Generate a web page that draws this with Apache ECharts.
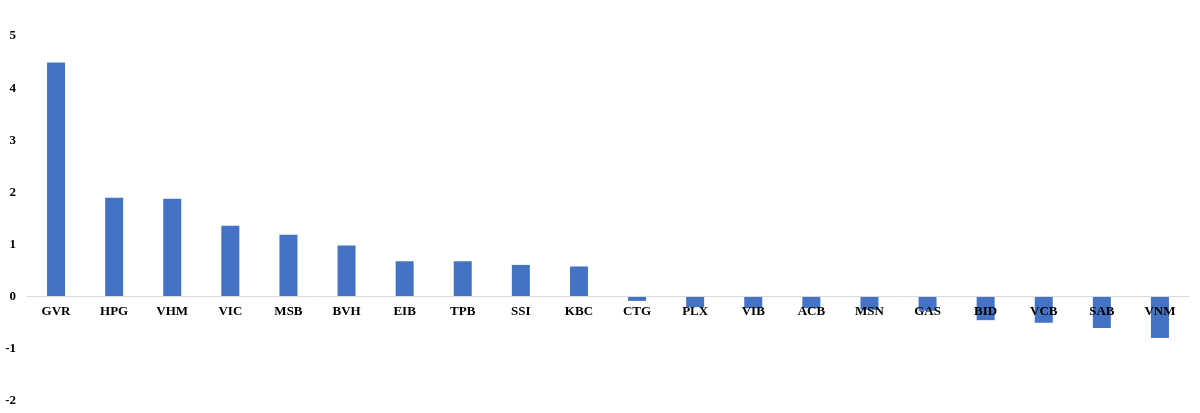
<!DOCTYPE html>
<html>
<head>
    <meta charset="UTF-8">
    <title>chart</title>
    <style>
        html, body { margin: 0; padding: 0; background: #fff; }
        #main { width: 1200px; height: 413px; }
    </style>
</head>
<body>
<div id="main"></div>
<script src="https://cdn.jsdelivr.net/npm/echarts@6/dist/echarts.min.js"></script>
<script>
    var tickers = ['GVR', 'HPG', 'VHM', 'VIC', 'MSB', 'BVH', 'EIB', 'TPB', 'SSI', 'KBC',
        'CTG', 'PLX', 'VIB', 'ACB', 'MSN', 'GAS', 'BID', 'VCB', 'SAB', 'VNM'];
    var values = [4.49, 1.90, 1.88, 1.36, 1.19, 0.98, 0.68, 0.68, 0.61, 0.58,
        -0.08, -0.2, -0.22, -0.22, -0.25, -0.27, -0.45, -0.5, -0.6, -0.79];
    var yMin = -2, yMax = 5, yStep = 1;

    var gridTop = 36, gridBottom = 12, chartH = 413;
    // move the category axis up so it sits on the zero line
    var plotH = chartH - gridTop - gridBottom;
    var zeroOffset = -plotH * (0 - yMin) / (yMax - yMin);

    var labelFont = {
        fontFamily: '"Liberation Serif", "Times New Roman", serif',
        fontWeight: 'bold',
        fontSize: 13,
        color: '#000'
    };

    var myChart = echarts.init(document.getElementById('main'));
    var option = {
        animation: false,
        grid: { left: 27, right: 11, top: gridTop, bottom: gridBottom, containLabel: false, outerBoundsMode: 'none' },
        xAxis: {
            type: 'category',
            data: tickers,
            position: 'bottom',
            offset: zeroOffset,
            z: 10,
            axisLine: { onZero: false, lineStyle: { color: '#d9d9d9', width: 1 } },
            axisTick: { show: false },
            axisLabel: Object.assign({ margin: 8, interval: 0 }, labelFont)
        },
        yAxis: {
            type: 'value',
            min: yMin,
            max: yMax,
            interval: yStep,
            splitLine: { show: false },
            axisLine: { show: false },
            axisTick: { show: false },
            axisLabel: Object.assign({ margin: 11 }, labelFont)
        },
        series: [{
            type: 'bar',
            data: values,
            barWidth: 18,
            itemStyle: { color: '#4472C4' }
        }]
    };
    myChart.setOption(option);
</script>
</body>
</html>
